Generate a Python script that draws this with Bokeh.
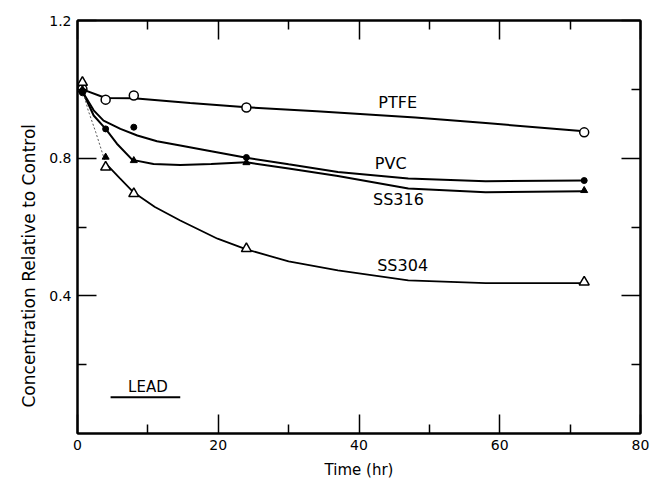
from bokeh.plotting import figure
from bokeh.models import FixedTicker, LinearAxis, Range1d, Label, Title
from bokeh.embed import file_html
from bokeh.resources import INLINE

# ---- data ----
times = [0.7, 4, 8, 24, 72]
ptfe_pts = [1.00, 0.970, 0.982, 0.947, 0.875]
pvc_pts = [0.99, 0.885, 0.890, 0.802, 0.735]
ss316_pts = [1.00, 0.803, 0.793, 0.787, 0.706]
ss304_pts = [1.02, 0.774, 0.697, 0.537, 0.440]

# hand-drawn smooth curves
ptfe_cx = [0.7, 4, 8, 16, 24, 34, 48, 58, 72]
ptfe_cy = [1.00, 0.975, 0.974, 0.960, 0.948, 0.936, 0.918, 0.902, 0.878]
pvc_cx = [0.8, 2.3, 3.7, 6.1, 8.5, 11.3, 14.6, 19, 24, 30, 37, 47, 58, 72]
pvc_cy = [0.99, 0.939, 0.909, 0.885, 0.866, 0.849, 0.837, 0.820, 0.801, 0.782, 0.760, 0.741, 0.733, 0.735]
ss316_cx = [0.8, 2.3, 4, 5.6, 7.8, 10.8, 14.6, 19, 24, 30, 37, 47, 58, 72]
ss316_cy = [0.99, 0.924, 0.885, 0.842, 0.795, 0.783, 0.780, 0.783, 0.788, 0.770, 0.748, 0.712, 0.701, 0.704]
ss304_dx = [0.7, 1.5, 2.6, 4.0]
ss304_dy = [1.00, 0.94, 0.875, 0.785]
ss304_cx = [4, 6, 8, 11, 14.6, 19.9, 24, 30, 37, 47, 58, 72]
ss304_cy = [0.785, 0.742, 0.700, 0.658, 0.619, 0.566, 0.535, 0.500, 0.474, 0.445, 0.437, 0.437]

x_major = [0, 20, 40, 60, 80]
x_minor = [10, 30, 50, 70]
y_major = [0.4, 0.8, 1.2]
y_minor = [0.2, 0.6, 1.0]

FONT = "DejaVu Sans"

p = figure(width=653, height=485, output_backend="svg", toolbar_location=None,
           x_range=Range1d(0, 80), y_range=Range1d(0, 1.2),
           min_border_left=77, min_border_right=13, min_border_top=20, min_border_bottom=52)
p.grid.visible = False
p.outline_line_color = "black"
p.outline_line_width = 2
p.background_fill_color = "white"
p.border_fill_color = "white"

def style_axis(ax, ticks, show_labels):
    ax.axis_line_width = 2
    ax.axis_line_color = "black"
    ax.major_tick_in = 19
    ax.major_tick_out = 0
    ax.minor_tick_in = 9
    ax.minor_tick_out = 0
    ax.major_tick_line_width = 1.5
    ax.minor_tick_line_width = 1.5
    ax.major_label_text_font = FONT
    ax.major_label_text_font_size = "14px"
    ax.major_label_text_color = "black"
    ax.major_label_standoff = 6
    if not show_labels:
        ax.major_label_overrides = {t: "" for t in ticks}
        ax.major_label_standoff = 0

p.xaxis.ticker = FixedTicker(ticks=x_major, minor_ticks=x_minor)
p.yaxis.ticker = FixedTicker(ticks=y_major, minor_ticks=y_minor)
style_axis(p.xaxis[0], x_major, True)
style_axis(p.yaxis[0], y_major, True)
p.xaxis.axis_label = "Time (hr)"
p.xaxis.axis_label_text_font = FONT
p.xaxis.axis_label_text_font_size = "15px"
p.xaxis.axis_label_text_font_style = "normal"
p.xaxis.axis_label_text_color = "black"
p.xaxis.axis_label_standoff = 8

top = LinearAxis(ticker=FixedTicker(ticks=x_major, minor_ticks=x_minor))
style_axis(top, x_major, False)
p.add_layout(top, "above")
right = LinearAxis(ticker=FixedTicker(ticks=y_major, minor_ticks=y_minor))
style_axis(right, y_major, False)
p.add_layout(right, "right")

ylab = Title(text="Concentration Relative to Control", align="left",
             text_font=FONT, text_font_size="17px", text_font_style="normal",
             text_color="black", offset=26, standoff=16)
p.add_layout(ylab, "left")

# curves
p.line(ptfe_cx, ptfe_cy, line_color="black", line_width=2)
p.line(pvc_cx, pvc_cy, line_color="black", line_width=2)
p.line(ss316_cx, ss316_cy, line_color="black", line_width=2)
p.line(ss304_dx, ss304_dy, line_color="#555555", line_width=1, line_dash="2 2")
p.line(ss304_cx, ss304_cy, line_color="black", line_width=1.8)

# markers
p.scatter(times, ptfe_pts, marker="circle", size=9, fill_color="white", line_color="black", line_width=1.5)
p.scatter(times, pvc_pts, marker="circle", size=6, fill_color="black", line_color="black")
p.scatter(times, ss316_pts, marker="triangle", size=7, fill_color="black", line_color="black")
p.scatter(times, ss304_pts, marker="triangle", size=10, fill_color="white", line_color="black", line_width=1.5)

# series labels
for txt, x, y in [("PTFE", 45.5, 0.962), ("PVC", 44.5, 0.785), ("SS316", 45.6, 0.68), ("SS304", 46.2, 0.488)]:
    p.add_layout(Label(x=x, y=y, text=txt, text_align="center", text_baseline="middle",
                       text_font=FONT, text_font_size="16px", text_color="black"))

p.add_layout(Label(x=10.0, y=0.134, text="LEAD", text_align="center", text_baseline="middle",
                   text_font=FONT, text_font_size="15px", text_color="black"))
p.line([4.7, 14.6], [0.105, 0.105], line_color="black", line_width=2)

open("out.html", "w").write(file_html(p, INLINE))
